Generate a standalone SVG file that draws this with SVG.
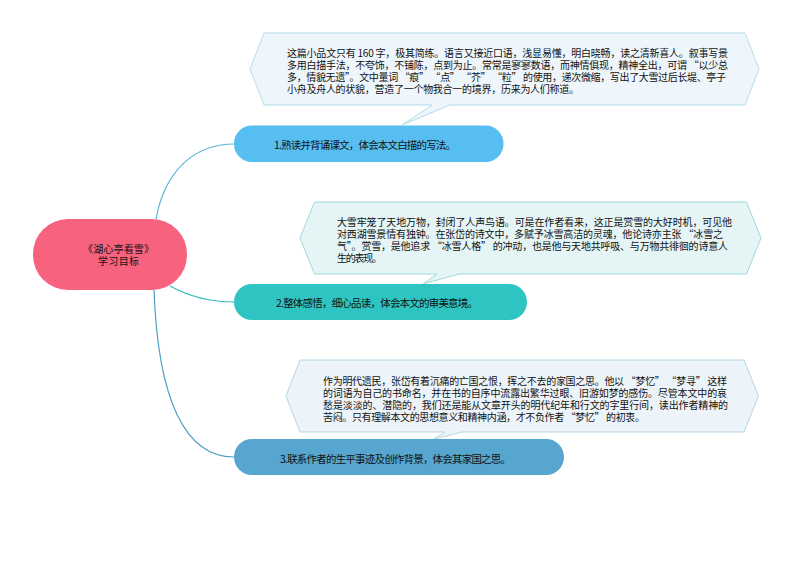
<svg xmlns="http://www.w3.org/2000/svg" width="794" height="561" viewBox="0 0 794 561">
<style>
text{font-family:"Noto Sans CJK SC","Noto Sans",sans-serif;font-size:10.5px;fill:#111}
.b{font-size:10px}
.c{fill:none;stroke-width:1.2}
</style>
<rect width="794" height="561" fill="#fff"/>
<g id="connectors">
<path class="c" stroke="#5AB4D6" d="M156 219C165 170 195 144 234 144"/>
<path class="c" stroke="#35B9BE" d="M170 286C190 297 210 302 234 302"/>
<path class="c" stroke="#4F9EC4" d="M154 290C158 400 185 457 234 457"/>
</g>
<g id="note1">
<path d="M264 33H745L759 69L745 105H450L402 125L432 105H264L250 69Z" fill="#EEF6FC" stroke="#B5DCEA"/>
<text class="b"><tspan x="287" y="56.500" textLength="441">这篇小品文只有 160 字，极其简练。语言又接近口语，浅显易懂，明白晓畅，读之清新喜人。叙事写景</tspan><tspan x="287" y="68.500" textLength="441">多用白描手法，不夸饰，不铺陈，点到为止。常常是寥寥数语，而神情俱现，精神全出，可谓 “以少总</tspan><tspan x="287" y="80.500" textLength="439">多，情貌无遗”。文中量词 “痕” “点” “芥” “粒” 的使用，递次微缩，写出了大雪过后长堤、亭子</tspan><tspan x="287" y="92.500" textLength="292">小舟及舟人的状貌，营造了一个物我合一的境界，历来为人们称道。</tspan></text>
</g>
<g id="note2">
<path d="M314.500 202H746.500L761 238L746.500 274H459L423 284L437 274H314.500L300 238Z" fill="#E5F5F5" stroke="#9FD9D9"/>
<text class="b"><tspan x="337" y="225.500" textLength="395">大雪牢笼了天地万物，封闭了人声鸟语。可是在作者看来，这正是赏雪的大好时机，可见他</tspan><tspan x="337" y="237.500" textLength="386">对西湖雪景情有独钟。在张岱的诗文中，多赋予冰雪高洁的灵魂，他论诗亦主张 “冰雪之</tspan><tspan x="337" y="249.500" textLength="391">气”。赏雪，是他追求 “冰雪人格” 的冲动，也是他与天地共呼吸、与万物共徘徊的诗意人</tspan><tspan x="337" y="261.500" textLength="45">生的表现。</tspan></text>
</g>
<g id="note3">
<path d="M300 360H744L758.500 396L744 432H462L434 439L445 432H300L286 396Z" fill="#EDF4F9" stroke="#B5D5E5"/>
<text class="b"><tspan x="323" y="384.500" textLength="404">作为明代遗民，张岱有着沉痛的亡国之恨，挥之不去的家国之思。他以 “梦忆” “梦寻” 这样</tspan><tspan x="323" y="396.500" textLength="404">的词语为自己的书命名，并在书的自序中流露出繁华过眼、旧游如梦的感伤。尽管本文中的哀</tspan><tspan x="323" y="408.500" textLength="405">愁是淡淡的、潜隐的，我们还是能从文章开头的明代纪年和行文的字里行间，读出作者精神的</tspan><tspan x="323" y="420.500" textLength="322">苦闷。只有理解本文的思想意义和精神内涵，才不负作者 “梦忆” 的初衷。</tspan></text>
</g>
<g id="root">
<rect x="33" y="219" width="154" height="71" rx="35" fill="#F7627F"/>
<text class="b"><tspan x="83" y="253" textLength="71">《湖心亭看雪》</tspan><tspan x="98" y="265" textLength="41">学习目标</tspan></text>
</g>
<g id="topic1">
<rect x="234" y="125.500" width="269.500" height="36.500" rx="18" fill="#57BEF2"/>
<text x="274" y="149" textLength="182">1.熟读并背诵课文，体会本文白描的写法。</text>
</g>
<g id="topic2">
<rect x="234" y="284" width="293" height="36" rx="18" fill="#2EC4C1"/>
<text x="276" y="307" textLength="202">2.整体感悟，细心品读，体会本文的审美意境。</text>
</g>
<g id="topic3">
<rect x="234" y="439" width="330" height="36" rx="18" fill="#56A6CF"/>
<text x="280" y="463" textLength="231">3.联系作者的生平事迹及创作背景，体会其家国之思。</text>
</g>
</svg>
